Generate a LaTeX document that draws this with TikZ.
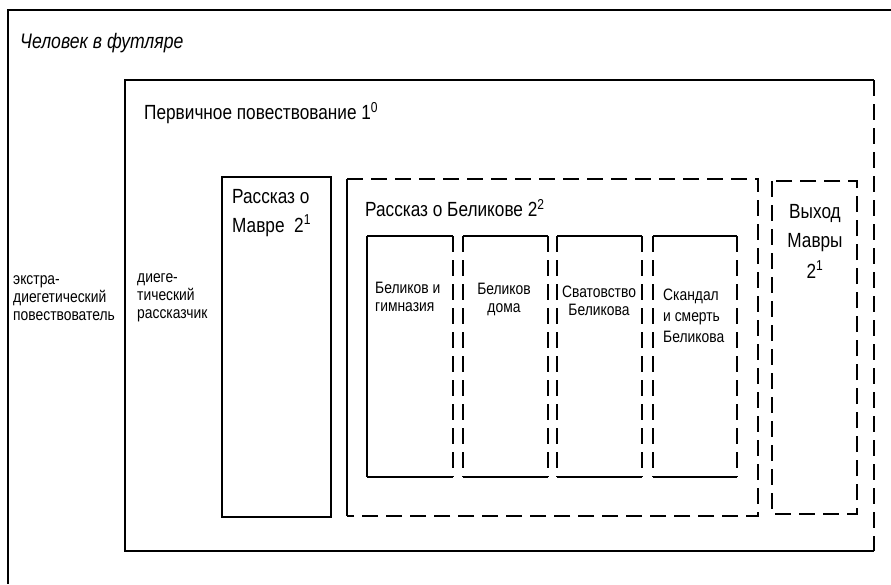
\documentclass[tikz,border=0pt]{standalone}
\usepackage{fontspec}
\setmainfont{Liberation Sans}[FakeStretch=0.84]
\usetikzlibrary{positioning}

\begin{document}
\begin{tikzpicture}[
    x=1pt, y=-1pt,
    every node/.style={inner sep=0pt, align=left},
    frame/.style={line width=1.8pt},
    dsh/.style={line width=1.8pt, dash pattern=on 16pt off 8pt},
    big/.style={font=\fontsize{20.5}{29}\selectfont},
    small/.style={font=\fontsize{16.5}{18}\selectfont}
]
\useasboundingbox (0,0) rectangle (891,584);

% whole story
\draw[frame] (891,10) -- (8,10) -- (8,584);
\node[font=\fontsize{21}{25}\selectfont\itshape, anchor=west] (title) at (20,43) {Человек в футляре};
\node[small, anchor=west] (extra) at (13,298) {экстра-\\диегетический\\повествователь};

% primary narrative
\draw[frame] (874,80) -- (125,80) -- (125,551) -- (874,551);
\draw[dsh] (874,80) -- (874,551);
\node[big, anchor=west] (prim) at (144,113) {Первичное повествование 1\textsuperscript{0}};
\node[small, anchor=west] (dieg) at (137,298) {диеге-\\тический\\рассказчик};

% the three inner stories
\draw[frame] (222,177) rectangle (331,517);
\node[big, anchor=north west] (mavr) at (232,189) {Рассказ о\\Мавре~~2\textsuperscript{1}};

\draw[frame] (347,179) -- (347,516);
\draw[dsh] (347,179) -- (758,179) -- (758,516) -- (347,516);
\node[big, anchor=west] (bel) at (365,208) {Рассказ о Беликове 2\textsuperscript{2}};

\draw[dsh] (772,181) rectangle (857,514);
\node[big, align=center] (exit) at (815,241) {Выход\\Мавры\\[2pt]2\textsuperscript{1}};

% episodes about Belikov
\foreach \l/\r in {367/453, 463/548, 557/642, 653/737} {
  \draw[frame] (\l,236) -- (\r,236) (\l,477) -- (\r,477);
  \draw[dsh] (\l,236) -- (\l,477) (\r,236) -- (\r,477);
}
\draw[frame] (367,236) -- (367,477);
\node[small, anchor=west] (gym) at (375,297) {Беликов и\\гимназия};
\node[small, align=center] (home) at (504,299) {Беликов\\дома};
\node[small, align=center] (match) at (599,301) {Сватовство\\Беликова};
\node[small, anchor=west] (scan) at (663,316) {Скандал\\[3pt]и смерть\\[3pt]Беликова};
\end{tikzpicture}
\end{document}
